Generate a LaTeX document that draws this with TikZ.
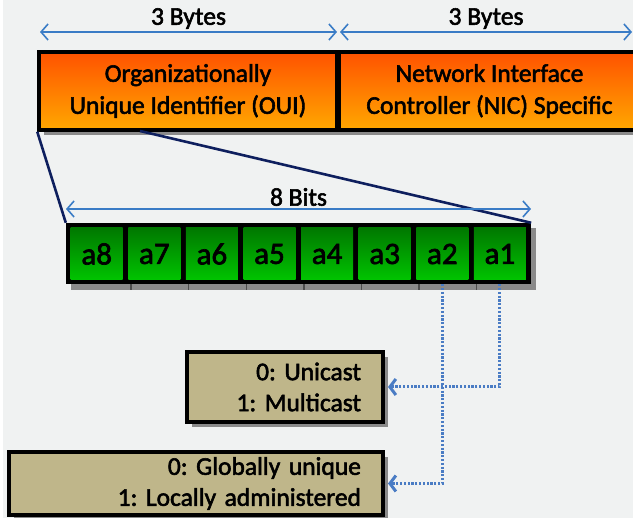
\documentclass[tikz,border=0pt]{standalone}
\usepackage{fontspec}
\setmainfont{Carlito}[FakeBold=2.2]
\usetikzlibrary{arrows.meta}
\definecolor{bg}{HTML}{F0F2F2}
\definecolor{orangetop}{HTML}{FF5200}
\definecolor{orangebot}{HTML}{FFA800}
\definecolor{greentop}{HTML}{007800}
\definecolor{greenbot}{HTML}{00C400}
\definecolor{tan}{HTML}{BFB68A}
\definecolor{navy}{HTML}{0E1F5E}
\definecolor{arrowblue}{HTML}{3A7CC6}
\definecolor{dotblue}{HTML}{4A7CC4}
\definecolor{shadowgray}{HTML}{8A8A8A}
\frenchspacing
\tikzset{
  txt/.style={font=\fontsize{25.5}{32}\selectfont, text=black},
  orangebox/.style={draw=black, line width=3.5pt, top color=orangetop, bottom color=orangebot,
    minimum height=78pt, inner sep=0pt, align=center, txt},
  bitcell/.style={top color=greentop, bottom color=greenbot, minimum width=52pt, minimum height=52pt,
    inner sep=0pt, font=\fontsize{31}{32}\selectfont},
  tanbox/.style={draw=black, line width=4pt, fill=tan, inner ysep=0pt, align=right, txt, font=\fontsize{25.5}{31}\selectfont},
  dimarrow/.style={draw=arrowblue, line width=1.6pt, {Straight Barb[length=7pt,width=16pt]}-{Straight Barb[length=7pt,width=16pt]}},
  dotline/.style={draw=dotblue, line width=3pt, dash pattern=on 2.2pt off 1.6pt, -{Straight Barb[length=6pt,width=16pt]}},
  navyline/.style={draw=navy, line width=2.6pt},
  shadowfill/.style={fill=shadowgray}
}
\begin{document}
\begin{tikzpicture}[x=1pt,y=-1pt]
\useasboundingbox (0,0) rectangle (633,518);
\fill[bg] (0,0) rectangle (633,518);
\fill[white] (0,0) rectangle (3,518);

% top dimension arrows
\coordinate (dA) at (40,32);
\coordinate (dB) at (337,32);
\coordinate (dC) at (340,32);
\coordinate (dD) at (632,32);
\draw[dimarrow] (dA) -- node[txt, above=-1pt] (lblA) {3 Bytes} (dB);
\draw[dimarrow] (dC) -- node[txt, above=-1pt] (lblB) {3 Bytes} (dD);

% shadows of top boxes
\fill[shadowfill] (44,57) rectangle (645,135);

% top boxes
\node[orangebox, minimum width=298pt] (oui) at (188,91) {Organizationally\\Unique Identifier (OUI)};
\node[orangebox, minimum width=301pt] (nic) at (489.5,91) {Network Interface\\Controller (NIC) Specific};

% bits row shadow
\fill[shadowfill] (71,228) rectangle (536,290);
\foreach \k in {1,...,7} {
  \draw[black!70, line width=1.5pt] ({66+2.5+57.6*\k+5},284) -- ({66+2.5+57.6*\k+5},290);
}

% bit row
\node[fill=black, minimum width=465pt, minimum height=61pt, inner sep=0pt] (bitrow) at (298.5,253.5) {};
\foreach \i [count=\k from 0] in {8,7,6,5,4,3,2,1} {
  \node[bitcell] (bit\i) at ({96.7+57.6*\k},254) {a\i};
}

% navy expansion lines
\coordinate (ouiB) at (140,131);
\draw[navyline] (oui.south west) -- (bitrow.north west);
\draw[navyline] (ouiB) -- (bitrow.north east);

% 8 bits arrow
\coordinate (eA) at (66,209);
\coordinate (eB) at (531,209);
\draw[dimarrow] (eA) -- node[txt, above=-1pt] (lblC) {8 Bits} (eB);

% tan boxes with shadows
\fill[shadowfill] (192,357) rectangle (388,427);
\node[tanbox, minimum width=196pt, minimum height=70pt, text width=152pt, inner xsep=22pt] (uni) at (285,387) {0: Unicast\\1: Multicast};
\fill[shadowfill] (14,457) rectangle (388,522);
\node[tanbox, minimum width=374pt, minimum height=63pt, text width=330pt, inner xsep=22pt] (glob) at (196,483.5) {0: Globally unique\\1: Locally administered};

% dotted connectors
\draw[dotline, shorten >=3pt] (bit1.south |- bitrow.south) |- (uni.east);
\draw[dotline, shorten >=3pt] (bit2.south |- bitrow.south) |- (glob.east);
\end{tikzpicture}
\end{document}
